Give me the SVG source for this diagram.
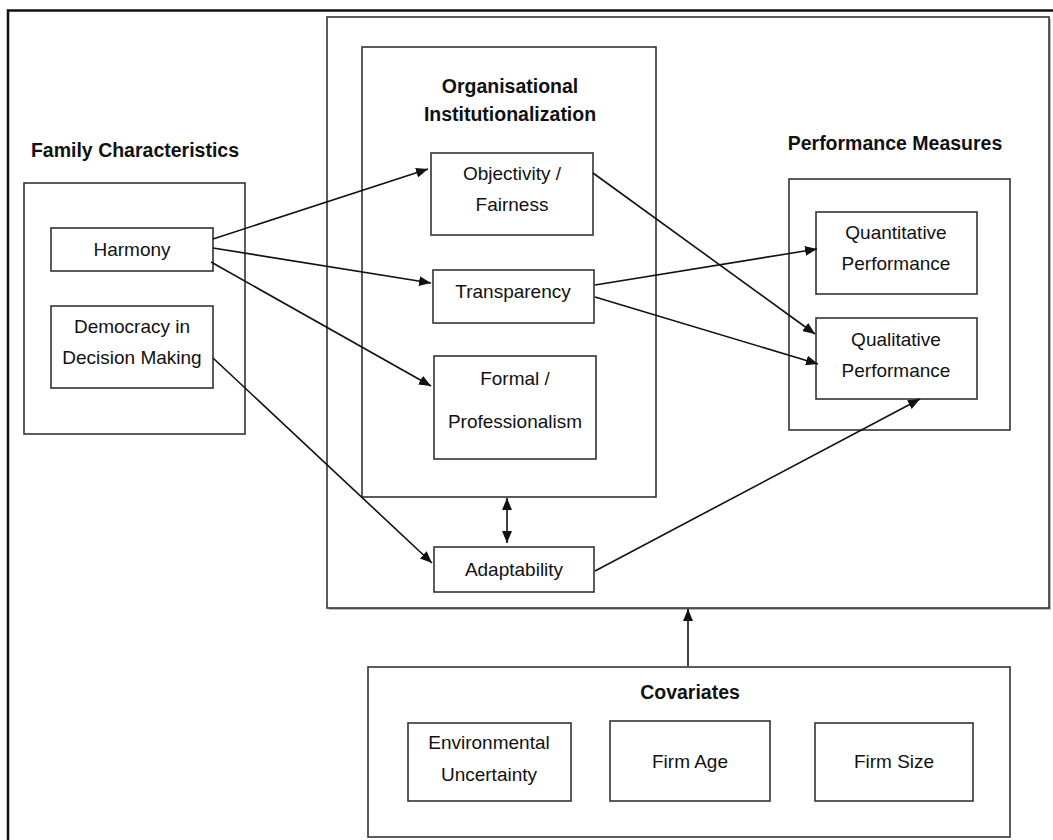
<svg xmlns="http://www.w3.org/2000/svg" width="1053" height="840" viewBox="0 0 1053 840">
<style>
.box{fill:#fff;stroke:#333;stroke-width:1.6}
.frame{fill:none;stroke:#111;stroke-width:2.5}
.t{font-family:"Liberation Sans",Arial,sans-serif;font-size:19px;fill:#111;text-anchor:middle}
.h{font-family:"Liberation Sans",Arial,sans-serif;font-size:19.5px;font-weight:bold;fill:#111;text-anchor:middle}
.c{stroke:#111;stroke-width:1.6;fill:none}
</style>
<defs>
<marker id="ah" viewBox="0 0 12 10" refX="12" refY="5" markerWidth="12" markerHeight="10" markerUnits="userSpaceOnUse" orient="auto-start-reverse">
<path d="M0,0 L12,5 L0,10 z" fill="#111"/>
</marker>
</defs>
<rect width="1053" height="840" fill="#fff"/>
<path class="frame" d="M8,850 L8,10.5 L1060,10.5"/>
<g id="model-frame">
<rect x="329" y="19" width="722" height="591" fill="#bbb"/>
<rect class="box" x="327" y="17" width="722" height="591"/>
</g>
<g id="family">
<text class="h" x="135" y="157">Family Characteristics</text>
<rect class="box" x="24" y="183" width="221" height="251"/>
</g>
<g id="harmony">
<rect class="box" x="51" y="228" width="162" height="43"/>
<text class="t" x="132" y="256">Harmony</text>
</g>
<g id="democracy">
<rect class="box" x="51" y="306" width="162" height="82"/>
<text class="t" x="132" y="333">Democracy in</text>
<text class="t" x="132" y="364">Decision Making</text>
</g>
<g id="institutionalization">
<rect class="box" x="362" y="47" width="294" height="450"/>
<text class="h" x="510" y="93">Organisational</text>
<text class="h" x="510" y="121">Institutionalization</text>
</g>
<g id="objectivity">
<rect class="box" x="431" y="153" width="162" height="82"/>
<text class="t" x="512" y="180">Objectivity /</text>
<text class="t" x="512" y="211">Fairness</text>
</g>
<g id="transparency">
<rect class="box" x="433" y="270" width="161" height="53"/>
<text class="t" x="513" y="298">Transparency</text>
</g>
<g id="formal">
<rect class="box" x="434" y="356" width="162" height="103"/>
<text class="t" x="515" y="385">Formal /</text>
<text class="t" x="515" y="428">Professionalism</text>
</g>
<g id="adaptability">
<rect class="box" x="434" y="547" width="160" height="45"/>
<text class="t" x="514" y="576">Adaptability</text>
</g>
<g id="performance">
<text class="h" x="895" y="150">Performance Measures</text>
<rect class="box" x="789" y="179" width="221" height="251"/>
</g>
<g id="quantitative">
<rect class="box" x="816" y="212" width="161" height="82"/>
<text class="t" x="896" y="239">Quantitative</text>
<text class="t" x="896" y="270">Performance</text>
</g>
<g id="qualitative">
<rect class="box" x="816" y="318" width="161" height="81"/>
<text class="t" x="896" y="346">Qualitative</text>
<text class="t" x="896" y="377">Performance</text>
</g>
<g id="covariates">
<rect class="box" x="368" y="667" width="642" height="170"/>
<text class="h" x="690" y="699">Covariates</text>
</g>
<g id="environmental">
<rect class="box" x="408" y="723" width="163" height="78"/>
<text class="t" x="489" y="749">Environmental</text>
<text class="t" x="489" y="781">Uncertainty</text>
</g>
<g id="firm-age">
<rect class="box" x="610" y="721" width="160" height="80"/>
<text class="t" x="690" y="768">Firm Age</text>
</g>
<g id="firm-size">
<rect class="box" x="815" y="723" width="158" height="78"/>
<text class="t" x="894" y="768">Firm Size</text>
</g>
<g id="connectors">
<line class="c" x1="213" y1="239" x2="428" y2="169" marker-end="url(#ah)"/>
<line class="c" x1="213" y1="248" x2="431" y2="283" marker-end="url(#ah)"/>
<line class="c" x1="211" y1="262" x2="431" y2="386" marker-end="url(#ah)"/>
<line class="c" x1="213" y1="358" x2="432" y2="563" marker-end="url(#ah)"/>
<line class="c" x1="593" y1="173" x2="815" y2="334" marker-end="url(#ah)"/>
<line class="c" x1="595" y1="285" x2="817" y2="249" marker-end="url(#ah)"/>
<line class="c" x1="595" y1="297" x2="818" y2="364" marker-end="url(#ah)"/>
<line class="c" x1="595" y1="571" x2="920" y2="399" marker-end="url(#ah)"/>
<line class="c" x1="507" y1="498" x2="507" y2="543" marker-start="url(#ah)" marker-end="url(#ah)"/>
<line class="c" x1="688" y1="666" x2="688" y2="609" marker-end="url(#ah)"/>
</g>
</svg>
